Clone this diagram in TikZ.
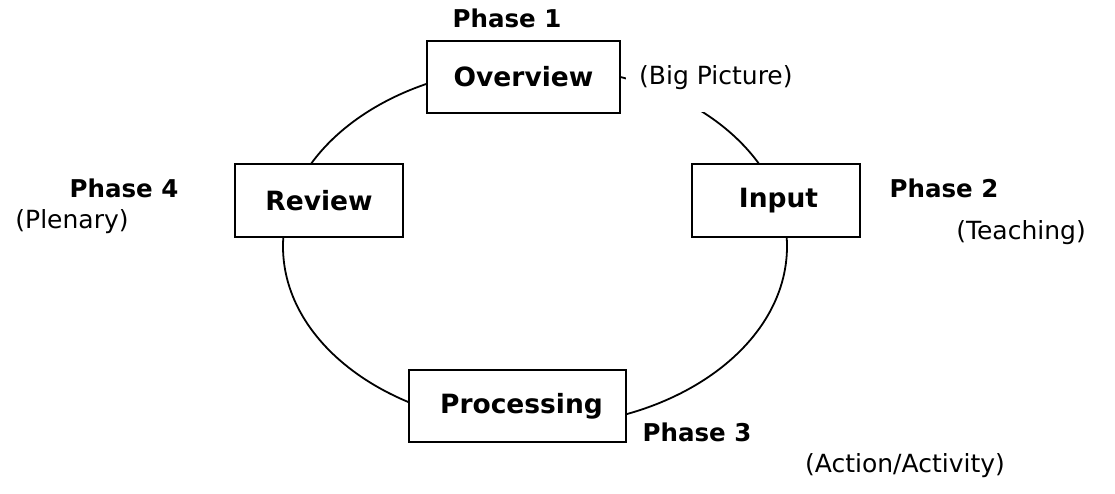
\documentclass[tikz,border=0pt]{standalone}
\usepackage{fontspec}
\setmainfont{DejaVu Sans}
\begin{document}
\begin{tikzpicture}[x=1pt,y=-1pt,
  phasebox/.style={draw,line width=1.9pt,fill=white,inner sep=0pt,
    font=\fontsize{26.5}{30}\selectfont\bfseries},
  phaselabel/.style={inner sep=0pt,font=\fontsize{24.5}{28}\selectfont\bfseries},
  note/.style={inner sep=0pt,font=\fontsize{25}{28}\selectfont}]
\useasboundingbox (0,0) rectangle (1115,494);
% the cycle
\draw[line width=1.8pt] (535,246.4) ellipse [x radius=252pt, y radius=180pt];
% the four phases
\node[phasebox,minimum width=193pt,minimum height=72pt] (overview) at (523.5,77) {Overview\hspace{12pt}};
\node[phasebox,minimum width=168pt,minimum height=73pt] (review) at (319,200.5) {Review};
\node[phasebox,minimum width=168pt,minimum height=73pt] (input) at (776,200.5) {\hspace{5pt}Input};
\node[phasebox,minimum width=217pt,minimum height=72pt] (processing) at (517.5,406) {\hspace{8pt}Processing};
% phase numbers
\node[phaselabel] (p1) at (507,18) {Phase 1};
\node[phaselabel] (p2) at (944,188) {Phase 2};
\node[phaselabel] (p3) at (697,432) {Phase 3};
\node[phaselabel] (p4) at (124,188) {Phase 4};
% descriptions; the first one masks part of the cycle
\node[note,fill=white,minimum height=68pt,inner xsep=4pt,anchor=west] (big) at (626,78) {\hspace{9pt}(Big Picture)};
\node[note] (teaching) at (1021,233) {(Teaching)};
\node[note] (action) at (905,466) {(Action/Activity)};
\node[note] (plenary) at (72,222) {(Plenary)};
\end{tikzpicture}
\end{document}
